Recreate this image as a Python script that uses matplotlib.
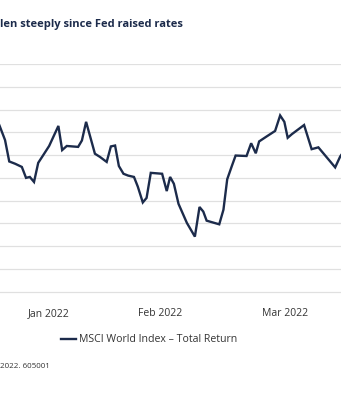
import matplotlib
matplotlib.use("Agg")
import matplotlib.pyplot as plt

# trading-day position (from left edge of the visible window) and index level
days = [-1.0, 0.0, 1.2, 2.2, 3.6, 5.2, 6.2, 7.1, 8.1, 9.1, 10.3, 11.7, 13.9,
        14.8, 15.9, 18.6, 19.5, 20.5, 22.6, 23.8, 25.4, 26.4, 27.4, 28.3,
        29.4, 30.5, 31.9, 32.8, 34.0, 34.9, 35.9, 38.6, 39.7, 40.5, 41.4,
        42.5, 44.5, 46.4, 47.5, 48.4, 49.2, 52.2, 53.2, 54.1, 55.2, 56.1,
        58.7, 59.8, 60.9, 61.7, 63.5, 65.5, 66.7, 67.7, 68.5, 69.5, 72.4,
        74.2, 75.8, 79.8, 81.0, 82.0]
msci = [3185, 3162, 3133, 3086, 3081, 3074, 3050, 3052, 3041, 3083, 3100,
        3120, 3164, 3111, 3120, 3118, 3132, 3173, 3103, 3096, 3085, 3119,
        3121, 3076, 3059, 3055, 3052, 3031, 2996, 3006, 3061, 3059, 3021,
        3052, 3037, 2993, 2951, 2921, 2986, 2976, 2956, 2948, 2980, 3047,
        3076, 3099, 3098, 3126, 3104, 3130, 3141, 3153, 3187, 3173, 3138,
        3146, 3166, 3113, 3117, 3073, 3097, 3110]

tick_pos = [11.7, 38.1, 67.9]
tick_labels = ["Jan 2022", "Feb 2022", "Mar 2022"]

title = "len steeply since Fed raised rates"
series_name = "MSCI World Index \u2013 Total Return"
source = "2022. 605001"

navy = "#1c2b4b"
plt.rcParams["font.family"] = ["Open Sans", "DejaVu Sans"]

fig = plt.figure(figsize=(3.41, 4.0), dpi=100)
# a few px of margin below the lowest gridline so it is not clipped
ax = fig.add_axes([0, 0.265, 1, 0.575])

ax.plot(days, msci, color=navy, lw=1.7, label=series_name, solid_joinstyle="miter")

ax.set_xlim(0, 341 / 4.2)
ax.set_ylim(2795, 3300)
ax.set_yticks(range(2800, 3301, 50))
ax.yaxis.grid(True, color="#e0e0e0", lw=0.9)
ax.set_axisbelow(True)
ax.set_xticks(tick_pos)
ax.set_xticklabels(tick_labels, fontsize=7.5, color="#333333")
ax.tick_params(axis="x", length=0, pad=10)
ax.tick_params(axis="y", length=0, labelleft=False)
for s in ax.spines.values():
    s.set_visible(False)

fig.text(0, 1 - 25 / 400, title, fontsize=8, fontweight="bold",
         color=navy, va="center", ha="left")

handles, labels = ax.get_legend_handles_labels()
fig.legend(handles, labels, loc="center left", bbox_to_anchor=(0.18, 1 - 340 / 400),
           frameon=False, fontsize=7.6, handlelength=1.4, handletextpad=0.3,
           labelcolor="#333333", borderaxespad=0, borderpad=0)

fig.text(0, 1 - 367 / 400, source, fontsize=5.8, color="#333333", va="center", ha="left")

fig.savefig("out.png", dpi=100, facecolor="white")
